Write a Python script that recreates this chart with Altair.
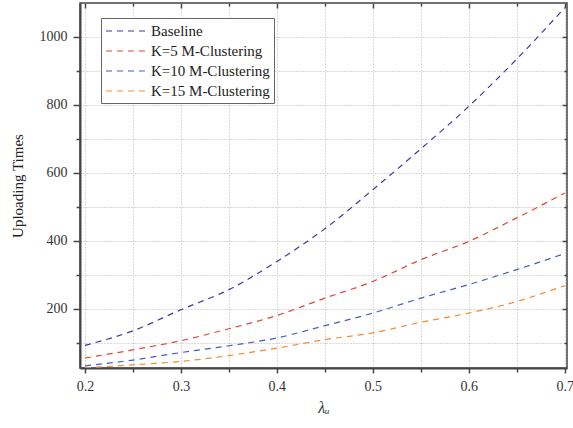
import altair as alt
import pandas as pd

# Arrival rate values on the x axis
lam = [0.2, 0.25, 0.3, 0.35, 0.4, 0.45, 0.5, 0.55, 0.6, 0.65, 0.7]

# Uploading times per scheme
baseline = [92, 135, 197, 256, 339, 435, 550, 670, 795, 934, 1085]
k5 = [55, 79, 106, 141, 180, 231, 280, 344, 398, 467, 540]
k10 = [32, 49, 71, 91, 114, 150, 187, 231, 271, 315, 362]
k15 = [26, 35, 45, 62, 84, 109, 129, 160, 187, 221, 268]

series_names = ["Baseline", "K=5 M-Clustering", "K=10 M-Clustering", "K=15 M-Clustering"]
series_colors = ["#3d3a9e", "#e0453c", "#4a5bbb", "#f58b2f"]

x_ticks = [0.2, 0.25, 0.3, 0.35, 0.4, 0.45, 0.5, 0.55, 0.6, 0.65, 0.7]
y_ticks = [100, 200, 300, 400, 500, 600, 700, 800, 900, 1000]
x_major = [0.2, 0.3, 0.4, 0.5, 0.6, 0.7]
x_minor = [0.25, 0.35, 0.45, 0.55, 0.65]
y_major = [200, 400, 600, 800, 1000]
y_minor = [100, 300, 500, 700, 900]

X_DOM = [0.1948, 0.7024]
Y_DOM = [25.6, 1099]

rows = []
for name, vals in zip(series_names, [baseline, k5, k10, k15]):
    for xv, yv in zip(lam, vals):
        rows.append({"lam": xv, "times": yv, "series": name})
df = pd.DataFrame(rows)

FONT = "Liberation Serif"
X_MAJOR = "abs(datum.value*10 - round(datum.value*10)) < 0.001"
Y_MAJOR = "datum.value % 200 == 0"
GRID = dict(grid=True, gridDash=[1, 2], gridColor="#b4b4b4", gridWidth=1)
TICK = dict(domainColor="#444", domainWidth=2, tickColor="#444", tickWidth=1.5,
            labelFont=FONT, labelFontSize=14, labelColor="#333")

xscale = alt.Scale(domain=X_DOM, nice=False, zero=False)
yscale = alt.Scale(domain=Y_DOM, nice=False, zero=False)

lines = alt.Chart(df).mark_line(
    strokeDash=[6, 5], strokeWidth=1.2, clip=True, interpolate="monotone"
).encode(
    x=alt.X("lam:Q", scale=xscale, axis=alt.Axis(
        orient="bottom", values=x_ticks, title="λᵤ",
        labelExpr=f"{X_MAJOR} ? format(datum.value, '.1f') : ''",
        tickSize={"condition": {"test": X_MAJOR, "value": 5}, "value": 4},
        labelPadding=6,
        titleFont=FONT, titleFontSize=16, titleFontStyle="italic",
        titleFontWeight="normal", titleColor="#333", titlePadding=6,
        **GRID, **TICK,
    )),
    y=alt.Y("times:Q", scale=yscale, axis=alt.Axis(
        orient="left", values=y_ticks, title="Uploading Times", format="d",
        labelExpr=f"{Y_MAJOR} ? datum.label : ''",
        tickSize={"condition": {"test": Y_MAJOR, "value": 7}, "value": 4},
        labelPadding=6,
        titleFont=FONT, titleFontSize=15, titleFontWeight="normal",
        titleColor="#222", titlePadding=14,
        **GRID, **TICK,
    )),
    color=alt.Color("series:N", sort=series_names,
                    scale=alt.Scale(domain=series_names, range=series_colors),
                    legend=alt.Legend(
                        orient="none", legendX=21, legendY=15, title=None,
                        symbolType="M-1,0H4", symbolDash=[6, 5], symbolStrokeWidth=1.2,
                        symbolSize=256, labelFont=FONT, labelFontSize=15,
                        labelColor="#222", strokeColor="#666", fillColor="white",
                        padding=4, rowPadding=3, labelOffset=28,
                    )),
)


# Mirror ticks on the top and right edges, pointing into the plot
def mirror(xv, yv, size):
    return alt.Chart(df).mark_point(opacity=0).encode(
        x=alt.X("lam:Q", scale=xscale, axis=alt.Axis(
            orient="top", values=xv, labels=False, domain=False, grid=False,
            title=None, tickSize=size, offset=-size, tickColor="#444", tickWidth=1.5)),
        y=alt.Y("times:Q", scale=yscale, axis=alt.Axis(
            orient="right", values=yv, labels=False, domain=False, grid=False,
            title=None, tickSize=size, offset=-size, tickColor="#444", tickWidth=1.5)),
    )


chart = alt.layer(lines, mirror(x_major, y_major, 5), mirror(x_minor, y_minor, 3)).resolve_scale(
    x="independent", y="independent"
).properties(
    width=487, height=365,
    autosize=alt.AutoSizeParams(type="none"),
    padding={"left": 80, "top": 3, "right": 6, "bottom": 60},
    background="white",
).configure_axis(
    labelFont=FONT, labelFontSize=14
).configure_view(
    stroke="#444", strokeWidth=1.5
)

chart.save("out.html", embed_options={"renderer": "svg", "actions": False})
